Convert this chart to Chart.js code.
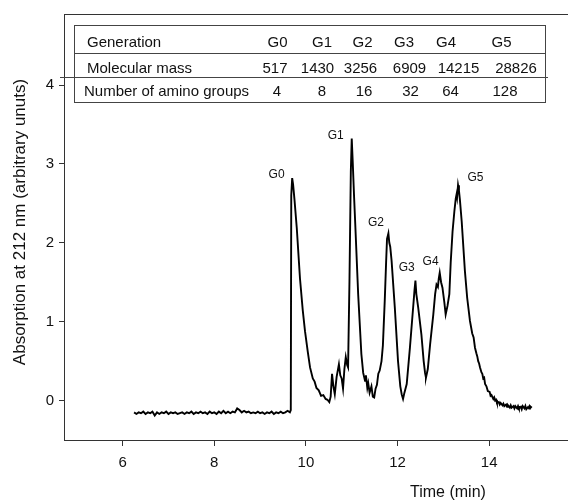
<!DOCTYPE html>
<html>
<head>
<meta charset="utf-8">
<script src="https://cdn.jsdelivr.net/npm/chart.js@4.4.1/dist/chart.umd.min.js"></script>
<style>
  html, body { margin: 0; padding: 0; background: #fff; }
  #wrap { width: 568px; height: 503px; }
</style>
</head>
<body>
<div id="wrap"><canvas id="chromChart" width="568" height="503"></canvas></div>
<script>
// retention time (min) and absorbance
const timeMin = [
  6.25, 6.30, 6.35, 6.40, 6.45, 6.50, 6.55, 6.60, 6.65, 6.70, 6.75, 6.80, 6.85, 6.90, 6.95,
  7.00, 7.05, 7.10, 7.15, 7.20, 7.25, 7.30, 7.35, 7.40, 7.45, 7.50, 7.55, 7.60, 7.65, 7.70,
  7.75, 7.80, 7.85, 7.90, 7.95, 8.00, 8.05, 8.10, 8.15, 8.20, 8.25, 8.30, 8.35, 8.40, 8.45,
  8.50, 8.55, 8.60, 8.65, 8.70, 8.75, 8.80, 8.85, 8.90, 8.95, 9.00, 9.05, 9.10, 9.15, 9.20,
  9.25, 9.30, 9.35, 9.40, 9.45, 9.50, 9.55, 9.60, 9.65, 9.67,
  9.68, 9.70, 9.72, 9.75, 9.80, 9.87, 9.93, 9.98, 10.04, 10.09, 10.15, 10.19, 10.23, 10.28, 10.33,
  10.38, 10.43, 10.47, 10.51, 10.54, 10.57, 10.60, 10.63, 10.67, 10.72, 10.75, 10.78, 10.81,
  10.84, 10.87, 10.90, 10.92, 10.95, 10.98, 11.00, 11.02, 11.05, 11.08, 11.14, 11.21, 11.25,
  11.29, 11.31, 11.34, 11.36, 11.39, 11.43, 11.46, 11.49, 11.52, 11.55, 11.58, 11.61, 11.65,
  11.68, 11.72, 11.75, 11.77, 11.80, 11.82, 11.84, 11.87, 11.94, 12.01, 12.06, 12.09, 12.12,
  12.15, 12.20, 12.27, 12.34, 12.37, 12.39, 12.41, 12.45, 12.52, 12.57, 12.60, 12.62, 12.66,
  12.71, 12.78, 12.82, 12.85, 12.88, 12.90, 12.92, 12.95, 12.98, 13.02, 13.05, 13.09, 13.13,
  13.16, 13.20, 13.24, 13.27, 13.29, 13.30, 13.32, 13.34, 13.36, 13.40, 13.47, 13.52, 13.58,
  13.63, 13.66, 13.69, 13.72, 13.74, 13.76, 13.78, 13.80, 13.83, 13.85, 13.87, 13.89, 13.91,
  13.94, 13.97, 14.01, 14.03, 14.05,
  14.09, 14.11, 14.13, 14.15, 14.17, 14.21, 14.23, 14.25, 14.29, 14.31, 14.33, 14.37, 14.39,
  14.41, 14.45, 14.47, 14.49, 14.53, 14.55, 14.57, 14.61, 14.63, 14.65, 14.69, 14.71, 14.73,
  14.77, 14.79, 14.81, 14.85, 14.87, 14.89, 14.93
];
const absorption = [
  -0.15, -0.17, -0.15, -0.16, -0.14, -0.17, -0.15, -0.16, -0.14, -0.19, -0.15, -0.17, -0.15, -0.16, -0.14,
  -0.17, -0.15, -0.16, -0.15, -0.17, -0.16, -0.15, -0.17, -0.15, -0.16, -0.14, -0.17, -0.15, -0.16, -0.14,
  -0.16, -0.15, -0.17, -0.14, -0.16, -0.15, -0.17, -0.14, -0.16, -0.13, -0.16, -0.14, -0.16, -0.14, -0.15,
  -0.10, -0.12, -0.15, -0.13, -0.15, -0.14, -0.16, -0.15, -0.16, -0.14, -0.16, -0.15, -0.17, -0.15, -0.16,
  -0.14, -0.17, -0.15, -0.16, -0.14, -0.16, -0.15, -0.13, -0.15, -0.12,
  2.60, 2.82, 2.74, 2.55, 2.19, 1.55, 1.15, 0.88, 0.62, 0.42, 0.28, 0.24, 0.16, 0.13, 0.06,
  0.07, 0.02, 0.01, -0.02, 0.05, 0.34, 0.18, 0.08, 0.30, 0.46, 0.32, 0.28, 0.15,
  0.40, 0.55, 0.45, 0.42, 1.50, 2.90, 3.32, 3.05, 2.60, 2.19, 1.35, 0.59, 0.35,
  0.25, 0.32, 0.16, 0.22, 0.10, 0.18, 0.05, 0.04, 0.15, 0.20, 0.34, 0.38, 0.50,
  0.70, 1.26, 1.75, 2.05, 2.12, 2.00, 1.95, 1.77, 1.18, 0.50, 0.18, 0.08, 0.02,
  0.10, 0.21, 0.67, 1.18, 1.40, 1.52, 1.35, 1.18, 0.84, 0.50, 0.35, 0.29, 0.40,
  0.71, 1.09, 1.35, 1.47, 1.44, 1.55, 1.62, 1.50, 1.43, 1.25, 1.09, 1.20, 1.35,
  1.75, 2.14, 2.40, 2.56, 2.62, 2.58, 2.73, 2.66, 2.55, 2.27, 1.64, 1.30, 1.01,
  0.85, 0.80, 0.67, 0.60, 0.56, 0.50, 0.47, 0.42, 0.36, 0.34, 0.28, 0.29, 0.21,
  0.18, 0.12, 0.11, 0.06, 0.07,
  0.02, 0.04, 0.00, 0.01, -0.03, -0.02, -0.05, -0.03, -0.06, -0.04, -0.07, -0.05, -0.08,
  -0.06, -0.09, -0.06, -0.09, -0.07, -0.10, -0.07, -0.10, -0.07, -0.10, -0.08, -0.11, -0.07,
  -0.10, -0.07, -0.11, -0.08, -0.10, -0.07, -0.09
];

const xTicks = [6, 8, 10, 12, 14];
const yTicks = [0, 1, 2, 3, 4];

const peakNames = ['G0', 'G1', 'G2', 'G3', 'G4', 'G5'];
const peakLabelTime = [9.36, 10.65, 11.53, 12.20, 12.72, 13.70];
const peakLabelAbs = [2.86, 3.36, 2.25, 1.68, 1.76, 2.83];

const generations = ['G0', 'G1', 'G2', 'G3', 'G4', 'G5'];
const molecularMass = [517, 1430, 3256, 6909, 14215, 28826];
const aminoGroups = [4, 8, 16, 32, 64, 128];

const FONT = "'Liberation Sans', Arial, Helvetica, sans-serif";
const INK = '#111';
const AXIS = '#333';

const extras = {
  id: 'extras',
  afterDraw(chart) {
    const c = chart.ctx;
    const area = chart.chartArea;
    const xs = chart.scales.x;
    const ys = chart.scales.y;
    c.save();

    // top frame line
    c.strokeStyle = AXIS;
    c.lineWidth = 1;
    c.beginPath();
    c.moveTo(area.left, area.top + 0.5);
    c.lineTo(area.right, area.top + 0.5);
    c.stroke();

    // axis titles
    c.fillStyle = INK;
    c.textAlign = 'center';
    c.textBaseline = 'middle';
    c.font = '16px ' + FONT;
    c.fillText('Time (min)', xs.getPixelForValue(13.1), 493);
    c.save();
    c.translate(20, (area.top + area.bottom) / 2 - 5);
    c.rotate(-Math.PI / 2);
    c.font = '17px ' + FONT;
    c.fillText('Absorption at 212 nm (arbitrary unuts)', 0, 0);
    c.restore();

    // peak labels
    c.font = '12px ' + FONT;
    peakNames.forEach((n, i) => {
      c.fillText(n, xs.getPixelForValue(peakLabelTime[i]), ys.getPixelForValue(peakLabelAbs[i]));
    });

    // table
    c.strokeStyle = '#444';
    c.strokeRect(74.5, 25.5, 471, 77);
    c.beginPath();
    c.moveTo(74, 53.5); c.lineTo(545, 53.5);
    c.moveTo(60, 77.5); c.lineTo(548, 77.5);
    c.stroke();

    c.font = '15px ' + FONT;
    c.textBaseline = 'alphabetic';
    c.textAlign = 'left';
    c.fillText('Generation', 87, 47);
    c.fillText('Molecular mass', 87, 73);
    c.fillText('Number of amino groups', 84, 96);
    c.textAlign = 'center';
    const genX = [277.5, 322, 362.5, 404, 446, 501.5];
    const massX = [275, 317.5, 360.5, 409.5, 458.5, 516];
    const aminoX = [277, 322, 364, 410.5, 450.5, 505];
    generations.forEach((g, i) => c.fillText(g, genX[i], 47));
    molecularMass.forEach((m, i) => c.fillText(String(m), massX[i], 73));
    aminoGroups.forEach((a, i) => c.fillText(String(a), aminoX[i], 96));

    c.restore();
  }
};

const ctx = document.getElementById('chromChart').getContext('2d');
const chromChart = new Chart(ctx, {
  type: 'line',
  data: {
    datasets: [{
      label: 'Absorption',
      data: timeMin.map((t, i) => ({ x: t, y: absorption[i] })),
      borderColor: '#000',
      borderWidth: 1.9,
      tension: 0,
      pointRadius: 0,
      fill: false
    }]
  },
  options: {
    responsive: false,
    animation: false,
    layout: { padding: { top: 12, left: 0, right: 0, bottom: 0 } },
    plugins: { legend: { display: false }, tooltip: { enabled: false } },
    scales: {
      x: {
        type: 'linear',
        min: 4.72,
        max: 15.72,
        afterBuildTicks: s => { s.ticks = xTicks.map(v => ({ value: v })); },
        afterFit: s => { s.height = 63; },
        grid: { drawOnChartArea: false, drawTicks: true, tickLength: 6, color: AXIS },
        border: { display: true, color: AXIS, width: 1 },
        ticks: { color: INK, padding: 8, maxRotation: 0, font: { family: FONT, size: 15 } }
      },
      y: {
        min: -0.5,
        max: 4.9,
        afterBuildTicks: s => { s.ticks = yTicks.map(v => ({ value: v })); },
        afterFit: s => { s.width = 64; },
        grid: { drawOnChartArea: false, drawTicks: true, tickLength: 5, color: AXIS },
        border: { display: true, color: AXIS, width: 1 },
        ticks: { color: INK, padding: 5, font: { family: FONT, size: 15 } }
      }
    }
  },
  plugins: [extras]
});
</script>
</body>
</html>
